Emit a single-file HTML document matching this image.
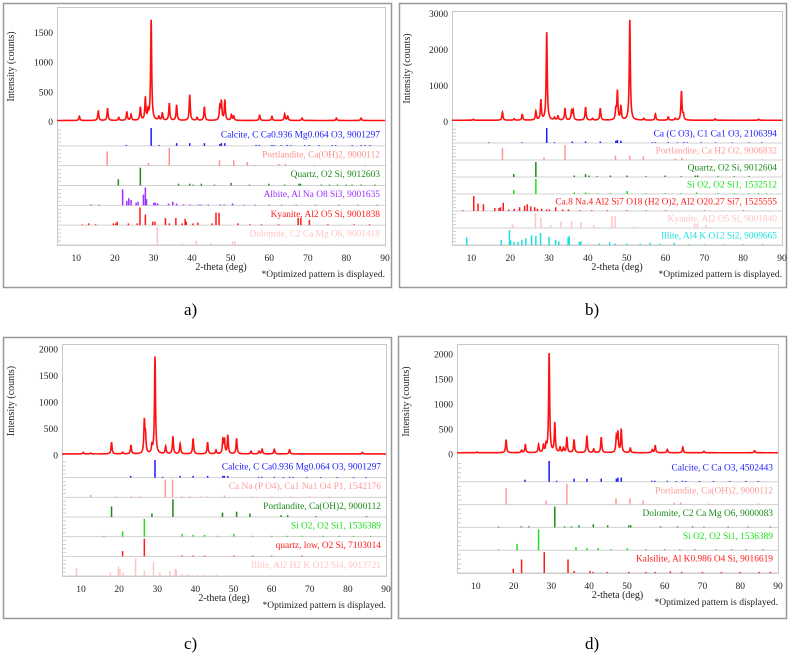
<!DOCTYPE html>
<html><head><meta charset="utf-8">
<style>
html,body{margin:0;padding:0;background:#fff;}
body{width:790px;height:661px;overflow:hidden;position:relative;font-family:"Liberation Serif",serif;}
svg{position:absolute;left:0;top:0;}
svg text{font-family:"Liberation Serif",serif;}
.lbl{position:absolute;font-size:17px;font-family:"Liberation Serif",serif;}
</style></head>
<body>
<svg id="fig" width="790" height="661" xmlns="http://www.w3.org/2000/svg"></svg>
<div class="lbl" style="left:184px;top:300px">a)</div>
<div class="lbl" style="left:585px;top:300px">b)</div>
<div class="lbl" style="left:184px;top:634px">c)</div>
<div class="lbl" style="left:585px;top:634px">d)</div>
<script>
// ---- data: measured peak positions (2θ) and heights (counts) ----
const peaksA_pos=[10.8,15.7,18.1,21,23.1,24.2,26.6,27.9,28.6,29.4,31.4,32.3,34.1,36.0,39.4,41.3,43.2,47.2,47.6,48.5,50.2,50.8,57.5,60.7,64.0,64.8,68.5,77.4,83.8];
const peaksA_int=[70,160,200,50,140,100,220,370,140,1680,60,120,280,260,430,50,230,220,310,330,90,70,90,70,110,70,40,40,40];
const peaksB_pos=[10.5,18.0,21,23.1,26.6,27.9,29.4,31.4,32.3,34.1,35.8,36.2,39.4,41.2,43.2,47.2,47.6,48.5,50.8,54.4,57.4,60.7,62.5,64.1,64.6,72.8,84];
const peaksB_int=[30,220,40,160,240,540,2430,70,110,320,240,270,360,50,330,270,790,370,2780,50,170,90,50,790,140,40,30];
const peaksC_pos=[10.6,12.5,18.0,20.9,23.1,26.6,26.9,28.6,29.4,32.2,34.1,36.0,39.4,43.2,45.4,47.2,47.6,48.5,50.8,54.6,56.7,57.5,60.7,64.7,83.8];
const peaksC_int=[30,15,220,30,160,600,320,140,1830,140,320,190,290,220,70,240,270,340,290,50,50,90,90,80,30];
const peaksD_pos=[10.3,18.0,22.1,23.1,26.6,27.9,28.6,29.4,30.9,32.3,33.2,34.1,36.0,39.4,41.2,43.2,47.2,47.6,48.5,50.9,56.7,57.5,60.7,64.8,70.4,83.8];
const peaksD_int=[15,260,50,160,160,140,140,1980,580,100,90,300,260,340,70,310,300,390,460,90,60,140,70,110,30,40];
const baseA=20, baseB=40, baseC=20, baseD=25;
const ticksA=[0,500,1000,1500], ticksB=[0,1000,2000,3000], ticksC=[0,500,1000,1500,2000], ticksD=[0,500,1000,1500,2000];
const xTicks=[10,20,30,40,50,60,70,80,90];

// ---- phase reference sticks: names, colours, positions, relative intensities ----
const phaseNamesA=["Calcite, C Ca0.936 Mg0.064 O3, 9001297","Portlandite, Ca(OH)2, 9000112","Quartz, O2 Si, 9012603","Albite, Al Na O8 Si3, 9001635","Kyanite, Al2 O5 Si, 9001838","Dolomite, C2 Ca Mg O6, 9001418"];
const phaseColorsA=["#1a1aff","#ff8f8f","#1a8a1a","#9a30ff","#ff1a1a","#ffc4c4"];
const phasePosA=[
 [23.0,29.4,31.4,36.0,39.4,43.2,47.2,47.6,48.5,56.6,57.4,60.7,61.3,63.1,64.7,65.6,69.2,70.3,72.9,76.3,77.2,81.5,83.8,84.8,86.1],
 [18.0,28.7,34.1,47.1,50.8,54.3,56.4,62.5,64.2,71.7,84.9],
 [20.9,26.6,36.5,39.4,40.3,42.4,45.8,50.1,54.9,59.9,64.0,67.7,68.1,73.5,75.6,77.7,79.9,81.5,83.8,87.4],
 [13.8,15.9,22.0,23.1,23.6,24.2,25.5,26.0,27.4,27.9,28.2,30.1,30.5,31.1,33.9,35.0,36.0,37.8,39.5,41.7,42.4,44.2,47.3,48.3,50.5,53.5,56.4,60.0,63.2,67.0,72.0,78.0,83.0,88.0],
 [11.5,13.2,15.0,19.6,20.2,20.6,23.5,25.8,26.5,27.9,29.8,30.4,33.1,34.1,35.8,37.4,38.2,38.5,40.2,41.5,45.2,46.2,47.0,51.9,55.0,58.0,62.4,67.5,68.2,70.4,75.2,82.0,86.0],
 [24.1,31.0,33.5,35.3,37.4,41.1,44.9,50.5,51.1,58.9,63.4,67.4,70.4,76.8]];
const phaseIntA=[
 [0.05,1.0,0.05,0.15,0.15,0.15,0.1,0.15,0.15,0.05,0.05,0.05,0.04,0.04,0.05,0.04,0.04,0.04,0.04,0.04,0.04,0.04,0.04,0.04,0.04],
 [0.8,0.15,1.0,0.3,0.3,0.2,0.04,0.1,0.1,0.05,0.05],
 [0.35,1.0,0.1,0.1,0.05,0.1,0.05,0.15,0.05,0.1,0.05,0.1,0.1,0.05,0.05,0.05,0.05,0.05,0.05,0.05],
 [0.05,0.04,0.9,0.25,0.4,0.3,0.15,0.2,0.6,1.0,0.35,0.15,0.15,0.1,0.1,0.2,0.1,0.05,0.05,0.05,0.05,0.05,0.05,0.05,0.1,0.04,0.04,0.04,0.04,0.04,0.04,0.04,0.04,0.04],
 [0.04,0.1,0.05,0.1,0.1,0.2,0.1,0.1,1.0,0.6,0.2,0.2,0.4,0.1,0.4,0.1,0.35,0.2,0.1,0.15,0.1,0.7,0.7,0.1,0.05,0.05,0.05,0.4,0.4,0.3,0.05,0.05,0.05],
 [0.05,1.0,0.05,0.05,0.1,0.25,0.1,0.2,0.2,0.05,0.05,0.05,0.04,0.04]];

const phaseNamesB=["Ca (C O3), C1 Ca1 O3, 2106394","Portlandite, Ca H2 O2, 9006832","Quartz, O2 Si, 9012604","Si O2, O2 Si1, 1532512","Ca.8 Na.4 Al2 Si7 O18 (H2 O)2, Al2 O20.27 Si7, 1525555","Kyanite, Al2 O5 Si, 9001840","Illite, Al4 K O12 Si2, 9009665"];
const phaseColorsB=["#1a1aff","#ff9a9a","#1a8a1a","#1ae01a","#ff1a1a","#ffc4c4","#1ae0e0"];
const phasePosB=[
 [14.5,23.0,29.4,31.4,36.0,39.4,43.2,47.2,47.6,48.5,56.6,57.4,60.7,63.1,64.7,65.6,69.2,72.9,77.2,81.5,84.8],
 [18.0,28.7,34.1,47.1,50.8,54.3,62.5,64.2,71.7,84.9],
 [20.9,26.6,36.5,39.4,40.3,42.4,45.8,50.1,54.9,59.9,64.0,67.7,68.3,73.5,77.7,81.5],
 [20.9,26.6,36.5,39.4,40.3,42.4,45.8,50.1,55.0,60.0,64.0,68.0,73.5,77.7,81.5,84.0,86.0],
 [7.8,10.6,11.7,13.1,16.0,17.1,17.5,18.2,19.6,21.0,22.4,23.7,24.4,25.3,26.3,27.0,28.1,29.4,30.1,31.7,33.5,35.0,38.0,41.0,45.0,50.0,55.0,60.0,70.0,80.0],
 [20.6,26.5,27.9,30.4,33.1,35.8,38.2,41.5,46.2,47.0,51.9,67.5,68.2,70.4],
 [8.8,17.7,19.8,20.1,21.0,22.0,23.0,24.0,25.5,26.6,27.8,30.0,31.7,32.5,34.9,35.2,37.8,38.2,42.9,45.6,47.0,50.0,53.5,56.0,58.5,62.2,66.0,70.0,75.0,80.0,85.0]];
const phaseIntB=[
 [0.04,0.05,1.0,0.05,0.1,0.1,0.1,0.15,0.2,0.15,0.05,0.05,0.05,0.04,0.05,0.04,0.04,0.04,0.04,0.04,0.04],
 [0.8,0.2,1.0,0.3,0.3,0.25,0.1,0.15,0.05,0.05],
 [0.2,1.0,0.1,0.2,0.1,0.05,0.1,0.1,0.05,0.1,0.05,0.1,0.1,0.05,0.05,0.05],
 [0.25,1.0,0.1,0.1,0.05,0.05,0.05,0.2,0.05,0.05,0.05,0.1,0.05,0.05,0.05,0.05,0.05],
 [0.05,1.0,0.5,0.45,0.2,0.2,0.25,0.55,0.1,0.15,0.25,0.35,0.45,0.3,0.25,0.15,0.15,0.1,0.1,0.25,0.1,0.1,0.05,0.05,0.05,0.05,0.04,0.04,0.04,0.04],
 [0.25,1.0,0.7,0.2,0.45,0.45,0.4,0.2,0.8,0.8,0.1,0.3,0.3,0.2],
 [0.5,0.35,1.0,0.3,0.2,0.2,0.35,0.45,0.65,0.6,0.8,0.55,0.35,0.25,0.5,0.6,0.2,0.25,0.1,0.2,0.1,0.1,0.08,0.15,0.08,0.15,0.05,0.05,0.05,0.05,0.05]];

const phaseNamesC=["Calcite, C Ca0.936 Mg0.064 O3, 9001297","Ca Na (P O4), Ca1 Na1 O4 P1, 1542176","Portlandite, Ca(OH)2, 9000112","Si O2, O2 Si1, 1536389","quartz, low, O2 Si, 7103014","Illite, Al2 H2 K O12 Si4, 9013721"];
const phaseColorsC=["#1a1aff","#ff9a9a","#1a8a1a","#1ae01a","#ff1a1a","#ffc4c4"];
const phasePosC=[
 [23.0,29.4,31.4,36.0,39.4,43.2,47.2,47.6,48.5,56.6,57.4,60.7,63.1,64.7,65.6,69.2,72.9,77.2,81.5,84.8],
 [12.5,19.3,23.1,25.3,32.1,34.0,36.4,38.5,41.5,42.9,47.6,55.0,60.0,65.0,70.0,75.0],
 [18.0,28.6,34.1,47.1,50.8,54.3,62.5,64.2,71.7,84.9],
 [16.0,20.9,26.6,36.5,39.4,42.4,45.8,50.1,55.0,60.0,64.0,68.0,73.5,77.7,81.5,86.0],
 [20.9,26.6,36.5,39.4,42.4,50.1,55.0,60.0,68.0],
 [8.8,17.7,19.8,20.2,21.0,24.3,26.6,29.0,30.7,33.3,34.7,35.0,36.5,38.0,40.5,42.5,45.5,50.0,55.0,60.0,65.0,70.0]];
const phaseIntC=[
 [0.1,1.0,0.05,0.1,0.1,0.1,0.1,0.1,0.1,0.05,0.05,0.05,0.04,0.05,0.04,0.04,0.04,0.04,0.04,0.04],
 [0.15,0.05,0.05,0.05,1.0,1.0,0.05,0.05,0.05,0.05,0.1,0.04,0.04,0.04,0.04,0.04],
 [0.6,0.2,1.0,0.25,0.3,0.2,0.1,0.1,0.05,0.05],
 [0.04,0.3,1.0,0.15,0.1,0.1,0.05,0.15,0.05,0.05,0.05,0.05,0.05,0.05,0.05,0.05],
 [0.3,1.0,0.05,0.05,0.04,0.05,0.04,0.04,0.04],
 [0.45,0.2,0.55,0.4,0.2,1.0,0.3,0.8,0.2,0.3,0.4,0.35,0.1,0.1,0.08,0.08,0.08,0.05,0.05,0.05,0.05,0.05]];

const phaseNamesD=["Calcite, C Ca O3, 4502443","Portlandite, Ca(OH)2, 9000112","Dolomite, C2 Ca Mg O6, 9000083","Si O2, O2 Si1, 1536389","Kalsilite, Al K0.986 O4 Si, 9016619"];
const phaseColorsD=["#1a1aff","#ff9a9a","#1a8a1a","#1ae01a","#ff1a1a"];
const phasePosD=[
 [23.0,29.4,31.4,36.0,39.4,43.2,47.2,47.6,48.5,56.6,57.4,60.7,63.1,64.7,65.6,69.2,72.9,77.2,81.5,84.8],
 [18.0,28.6,34.1,47.1,50.8,54.3,62.5,64.2,71.7,84.9],
 [16.0,22.0,24.0,30.9,33.5,35.3,37.3,41.1,44.9,50.5,51.0,58.9,63.4,67.4,70.4,76.8,82.0,88.0],
 [16.0,20.9,26.6,36.5,39.4,42.4,45.8,50.1,55.0,60.0,64.0,68.0,73.5,77.7,81.5,86.0],
 [19.9,22.1,28.1,34.4,36.0,40.2,41.0,44.8,50.5,55.0,57.5,61.5,64.5,70.0,75.0,80.0,85.0,88.0]];
const phaseIntD=[
 [0.1,1.0,0.05,0.15,0.15,0.15,0.15,0.2,0.2,0.05,0.05,0.05,0.04,0.05,0.04,0.04,0.04,0.04,0.04,0.04],
 [0.8,0.2,1.0,0.3,0.3,0.2,0.1,0.1,0.05,0.05],
 [0.04,0.05,0.05,1.0,0.05,0.05,0.1,0.15,0.1,0.1,0.1,0.05,0.05,0.05,0.04,0.04,0.04,0.04],
 [0.04,0.3,1.0,0.15,0.1,0.1,0.05,0.1,0.05,0.05,0.05,0.05,0.05,0.05,0.05,0.05],
 [0.2,0.65,1.0,0.65,0.1,0.1,0.05,0.05,0.05,0.05,0.05,0.08,0.05,0.05,0.05,0.05,0.05,0.05]];

// ---- layout (not data) ----
const NS="http://www.w3.org/2000/svg";
const fig=document.getElementById('fig');
const FONT="font-family:'Liberation Serif',serif;";
function mk(tag,attrs,parent){const e=document.createElementNS(NS,tag);for(const k in attrs)e.setAttribute(k,attrs[k]);(parent||fig).appendChild(e);return e;}

function panel(cfg){
  const g=mk('g',{});
  
  
  const box=mk('rect',{x:cfg.box[0]+0.5,y:cfg.box[1]+0.5,width:cfg.box[2]-cfg.box[0],height:cfg.box[3]-cfg.box[1],fill:'none',stroke:'#999','stroke-width':1.5},g);
  
  
  const L=cfg.left,R=cfg.right;
  const xs=t=>L+(t-5)/85*(R-L);
  const ys=c=>cfg.y0-c*cfg.k;
  const pf=mk('rect',{x:L+0.5,y:cfg.top+0.5,width:R-L,height:cfg.bottom-cfg.top,fill:'none',stroke:'#c8c8c8','stroke-width':1},g);
  
  
  cfg.yt.forEach(v=>{
    const t=mk('text',{x:L-4,y:ys(v)+3.5,'text-anchor':'end','font-size':9.5,fill:'#222',style:FONT},g);
    t.textContent=v;
    
    
  });
  const yt=mk('text',{x:0,y:0,'text-anchor':'middle','font-size':10,fill:'#222',style:FONT,transform:`translate(${cfg.box[0]+11},${(cfg.top+cfg.upper)/2}) rotate(-90)`},g);
  yt.textContent='Intensity (counts)';
  
  
  let d='';
  for(let t=5;t<=90.0001;t+=0.04){
    let c=cfg.base;
    for(let i=0;i<cfg.pp.length;i++){const dx=(t-cfg.pp[i])/0.16;c+=cfg.pi[i]/(1+dx*dx);}
    let y=Math.max(ys(c),cfg.top);
    d+=(d?'L':'M')+xs(t).toFixed(2)+','+y.toFixed(2);
  }
  const p=mk('path',{d:d,fill:'none',stroke:'#ff1010','stroke-width':1.6},g);
  
  
  const n=cfg.names.length,rh=(cfg.bottom-cfg.upper)/n;
  for(let r=0;r<n;r++){
    const top=cfg.upper+r*rh,bot=top+rh;
    const sep=mk('line',{x1:L,x2:R,y1:bot,y2:bot,stroke:'#d0d0d0','stroke-width':1},g);
    
    
    for(let m=1;m<5;m++){
      const tk=mk('line',{x1:L,x2:L+4,y1:top+m*rh/5,y2:top+m*rh/5,stroke:'#ccc','stroke-width':1},g);
      
      
    }
    const pos=cfg.ppos[r],inten=cfg.pint[r];
    for(let i=0;i<pos.length;i++){
      const h=(rh-2)*inten[i];
      const s=mk('line',{x1:xs(pos[i]),x2:xs(pos[i]),y1:bot,y2:bot-h,stroke:cfg.colors[r],'stroke-width':1.5},g);
      
      
    }
    const lb=mk('text',{x:R-5,y:top+Math.min(11.5,rh*0.62),'text-anchor':'end','font-size':9.4,fill:cfg.colors[r],style:FONT},g);
    lb.textContent=cfg.names[r];
    
    
  }
  xTicks.forEach(v=>{
    const t=mk('text',{x:xs(v),y:cfg.bottom+16,'text-anchor':'middle','font-size':9.5,fill:'#222',style:FONT},g);
    t.textContent=v;
    
    
  });
  const xt=mk('text',{x:(L+R)/2,y:cfg.bottom+25,'text-anchor':'middle','font-size':10,fill:'#222',style:FONT},g);
  xt.textContent='2-theta (deg)';
  
  
  const nt=mk('text',{x:R,y:cfg.bottom+32,'text-anchor':'end','font-size':9.5,fill:'#222',style:FONT},g);
  nt.textContent='*Optimized pattern is displayed.';
  
  
}

panel({id:'a',box:[3,3,391,287],left:57,right:385,top:7,upper:126,bottom:245,y0:121.7,k:0.0596,yt:ticksA,base:baseA,pp:peaksA_pos,pi:peaksA_int,names:phaseNamesA,colors:phaseColorsA,ppos:phasePosA,pint:phaseIntA});
panel({id:'b',box:[399,3,786,287],left:452,right:782,top:11,upper:126,bottom:245,y0:121.7,k:0.0361,yt:ticksB,base:baseB,pp:peaksB_pos,pi:peaksB_int,names:phaseNamesB,colors:phaseColorsB,ppos:phasePosB,pint:phaseIntB});
panel({id:'c',box:[3,337,391,618],left:62,right:386,top:344,upper:458,bottom:576,y0:455,k:0.053,yt:ticksC,base:baseC,pp:peaksC_pos,pi:peaksC_int,names:phaseNamesC,colors:phaseColorsC,ppos:phasePosC,pint:phaseIntC});
panel({id:'d',box:[398,336,786,618],left:457,right:778,top:344,upper:459,bottom:573,y0:454,k:0.05,yt:ticksD,base:baseD,pp:peaksD_pos,pi:peaksD_int,names:phaseNamesD,colors:phaseColorsD,ppos:phasePosD,pint:phaseIntD});
</script>
</body></html>
